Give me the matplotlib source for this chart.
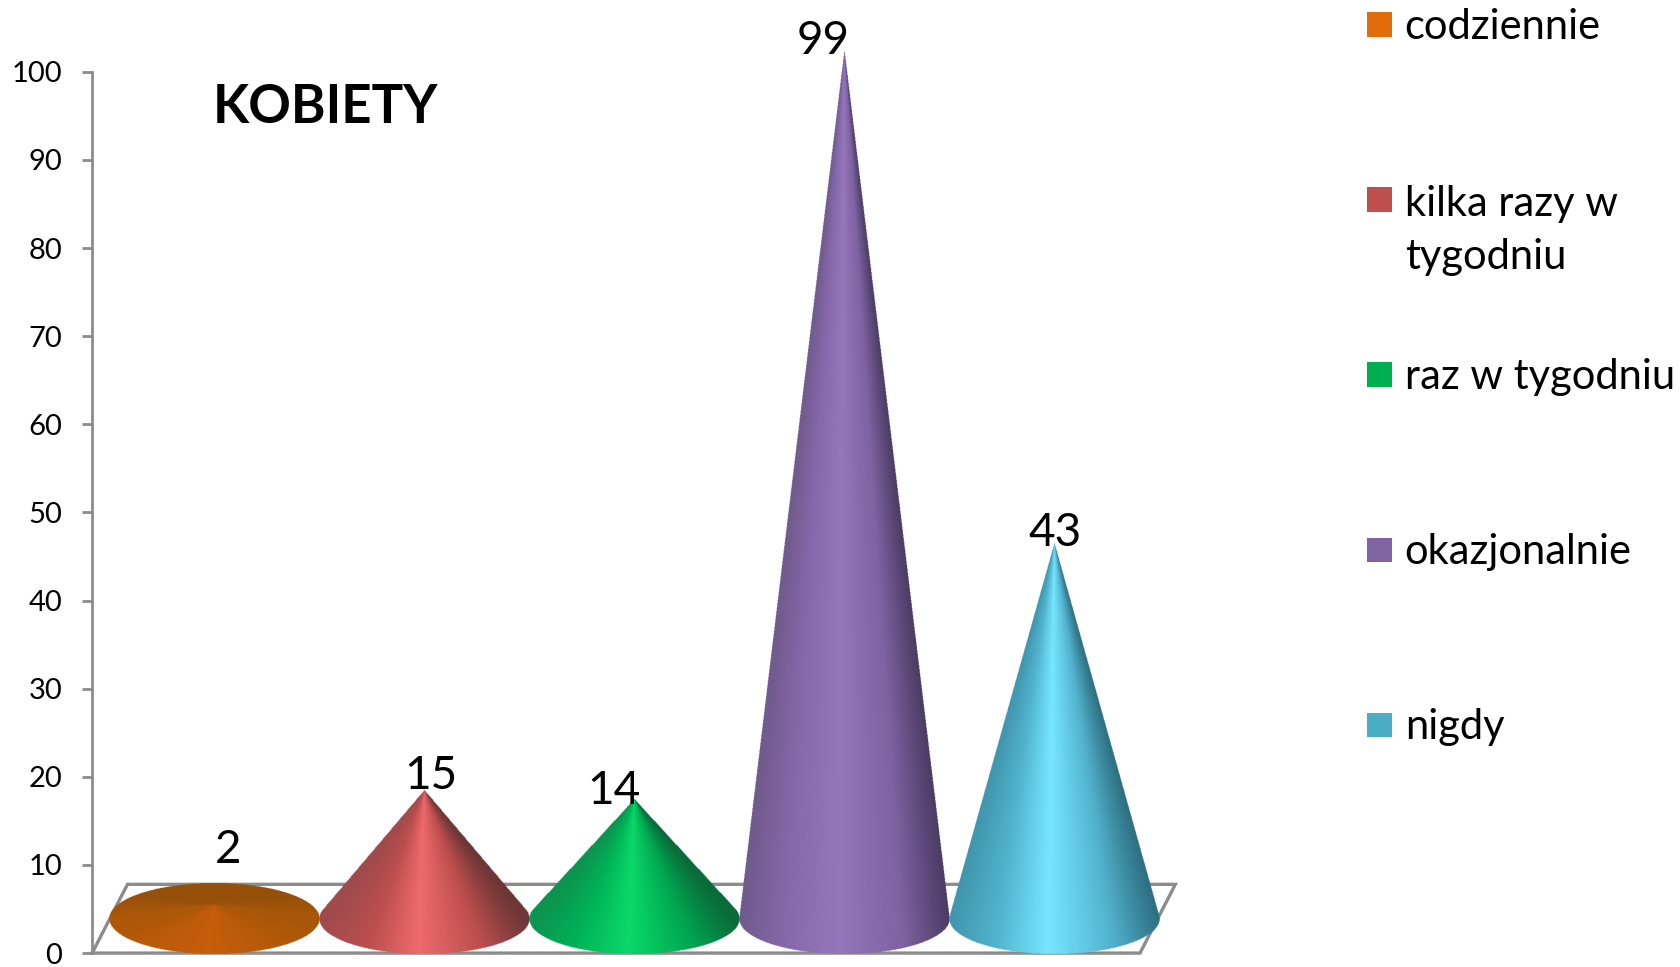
import matplotlib
matplotlib.use("Agg")
import matplotlib.pyplot as plt
import numpy as np
from matplotlib.colors import to_rgb
from matplotlib.patches import Rectangle

W, H = 1680, 967

categories = ["codziennie", "kilka razy w\ntygodniu", "raz w tygodniu", "okazjonalnie", "nigdy"]
values = [2, 15, 14, 99, 43]
y_ticks = list(range(0, 101, 10))

legend_colors = ["#E36C0A", "#C0504D", "#00B050", "#8064A2", "#4BACC6"]
# dark left edge, body, highlight, body, dark right edge
cone_shades = [
    ["#A85708", "#B65A09", "#C65E0A", "#BE5B0A", "#AC5808"],
    ["#6E3636", "#BC4E4E", "#EE6A6C", "#BC4E4E", "#A04A4C"],
    ["#0A6B3A", "#00A650", "#0BD86A", "#00B458", "#0C944F"],
    ["#4C3C64", "#7E62A2", "#9676BA", "#8868AC", "#705A8C"],
    ["#2E7082", "#52B2CE", "#76E6FF", "#52B4CF", "#4096AD"],
]
back_shades = ["#96500A", "#6E3636", "#0A6B3A", "#4C3C64", "#2E7082"]
shade_stops = [0.0, 0.22, 0.53, 0.78, 1.0]

label_dx = [13, 6, -19, -19, 1]
label_dy = [51, 13, 7, 8, 10]

BASE_Y = 3.9     # ellipse centre above the floor front edge
APEX_Y = 3.5     # the tip starts a little lower than the ellipse centre
RX, RY = 0.5, 4.0
GREY = "#8C8C8C"


def px(x):
    return x * W / 1568


def py(y):
    return y * H / 903


def cone(ax, x0, value, shades, back):
    # shade every image pixel by where its ray from the apex meets the base ellipse
    top = APEX_Y + value
    lo_y, hi_y = BASE_Y - RY - 0.2, max(top, BASE_Y + RY) + 0.2
    lo_x, hi_x = x0 - RX - 0.01, x0 + RX + 0.01
    nx = 460
    ny = int(np.clip((hi_y - lo_y) * 17, 80, 1800))
    gx, gy = np.meshgrid(np.linspace(lo_x, hi_x, nx), np.linspace(lo_y, hi_y, ny))
    b = (top - BASE_Y) / RY
    dx = (gx - x0) / RX
    dy = (gy - BASE_Y) / RY - b
    qa = dx ** 2 + dy ** 2 + 1e-12
    qb = 2 * b * dy
    qc = b ** 2 - 1
    disc = qb ** 2 - 4 * qa * qc
    s = (-qb + np.sqrt(np.maximum(disc, 0))) / (2 * qa)
    inside = (disc >= 0) & (s >= 1)
    cos_t = np.clip(s * dx, -1, 1)
    sin_t = np.clip(b + s * dy, -1, 1)
    t = (1 - cos_t) / 2
    stops = np.array([to_rgb(c) for c in shades])
    rgba = np.zeros(gx.shape + (4,))
    for k in range(3):
        rgba[..., k] = np.interp(t, shade_stops, stops[:, k])
    # the far side only shows on a cone flat enough to have its apex over the base
    if b < 1:
        back_mix = np.clip(sin_t * 1.6, 0, 1)[..., None]
        rgba[..., :3] = rgba[..., :3] * (1 - back_mix) + np.array(to_rgb(back)) * back_mix
    rgba[..., 3] = inside
    ax.imshow(rgba, origin="lower", extent=(lo_x, hi_x, lo_y, hi_y), aspect="auto",
              interpolation="hanning", interpolation_stage="rgba", zorder=3, clip_on=False)


plt.rcParams["font.family"] = ["Lato", "DejaVu Sans"]
fig = plt.figure(figsize=(W / 100, H / 100), dpi=100)

left, right = px(86), px(1100)
bottom, top = py(890), py(67)
ax = fig.add_axes([left / W, 1 - bottom / H, (right - left) / W, (bottom - top) / H])

# category spacing on screen is 195.9 px (in the 1568 wide frame), first centre at 200
x_lo = (86 - 200) / 195.9
x_hi = (1100 - 200) / 195.9
ax.patch.set_alpha(0)

for s in ["top", "right", "bottom"]:
    ax.spines[s].set_visible(False)
ax.spines["left"].set_color(GREY)
ax.spines["left"].set_linewidth(2)
ax.set_xticks([])
ax.set_yticks(y_ticks)
ax.tick_params(axis="y", length=7.5, width=2, color=GREY, labelsize=21, pad=14)

# floor of the 3D box
fx = [x_lo, x_lo + 978 / 195.9, x_lo + 1011 / 195.9, x_lo + 33 / 195.9, x_lo]
fy = [0, 0, 7.8, 7.8, 0]
ax.plot(fx, fy, color=GREY, lw=2.4, zorder=1, clip_on=False, solid_joinstyle="miter")

for i, v in enumerate(values):
    cone(ax, i, v, cone_shades[i], back_shades[i])
    ax.annotate(str(v), (i, APEX_Y + v), xytext=(label_dx[i] * W / 1568, label_dy[i] * H / 903),
                textcoords="offset pixels", ha="center", va="center",
                fontsize=33, color="black", zorder=5, annotation_clip=False)

# imshow resets the limits, so they are set after the cones
ax.set_xlim(x_lo, x_hi)
ax.set_ylim(0, 100)

fig.text(px(304) / W, 1 - py(100) / H, "KOBIETY", fontsize=38, fontweight="bold",
         ha="center", va="center", color="black")

# legend column with evenly spaced entries
for i, (name, c) in enumerate(zip(categories, legend_colors)):
    yc = 23 + i * 163.5
    fig.add_artist(Rectangle((px(1276) / W, 1 - py(yc + 11.5) / H), px(23) / W, py(23) / H,
                             transform=fig.transFigure, facecolor=c, edgecolor="none"))
    if "\n" in name:
        fig.text(px(1311) / W, 1 - py(yc - 14) / H, name, fontsize=30, ha="left", va="top",
                 linespacing=1.5, color="black")
    else:
        fig.text(px(1311) / W, 1 - py(yc + 2) / H, name, fontsize=30, ha="left", va="center",
                 color="black")

fig.savefig("out.png", dpi=100)
